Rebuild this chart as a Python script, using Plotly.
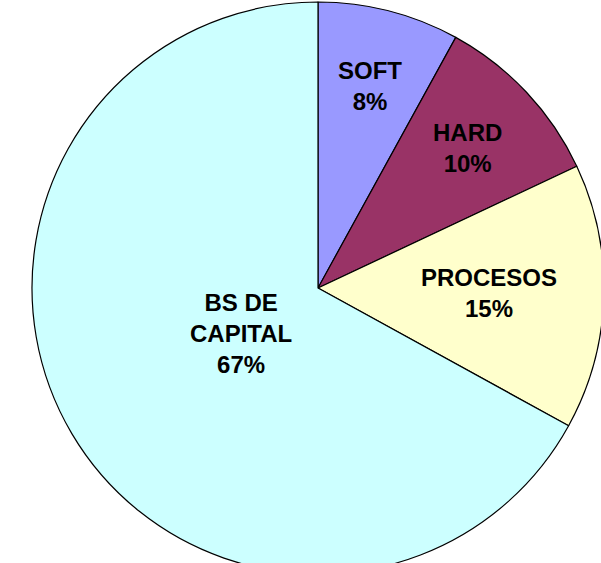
import math
import plotly.graph_objects as go

labels = ["SOFT", "HARD", "PROCESOS", "BS DE CAPITAL"]
display_names = ["SOFT", "HARD", "PROCESOS", "BS DE<br>CAPITAL"]
values = [8, 10, 15, 67]
colors = ["#9999FF", "#993366", "#FFFFCC", "#CCFFFF"]
label_radius = [0.73, 0.717, 0.598, 0.311]  # fraction of pie radius where each label sits

W, H = 640, 620
cx, cy, r = 318, 288, 286

fig = go.Figure(go.Pie(
    labels=labels,
    values=values,
    textposition="none",
    sort=False,
    direction="clockwise",
    rotation=0,
    marker=dict(colors=colors, line=dict(color="black", width=1.2)),
    hoverinfo="none",
    domain=dict(x=[(cx - r) / W, (cx + r) / W], y=[1 - (cy + r) / H, 1 - (cy - r) / H]),
))

total = sum(values)
cum = 0
for name, v, rf in zip(display_names, values, label_radius):
    mid = (cum + v / 2) / total * 2 * math.pi
    cum += v
    px = cx + rf * r * math.sin(mid)
    py = cy - rf * r * math.cos(mid)
    fig.add_annotation(
        x=px / W, y=1 - py / H, xref="paper", yref="paper",
        text=f"{name}<br>{round(v / total * 100)}%",
        showarrow=False, xanchor="center", yanchor="middle", align="center",
        font=dict(family="Liberation Sans, Arial", size=24, color="black", weight="bold"),
    )

fig.update_layout(
    width=W, height=H,
    margin=dict(l=0, r=0, t=0, b=0),
    showlegend=False,
    paper_bgcolor="white",
    plot_bgcolor="white",
)
fig.write_html(
    "out.html",
    config={"displayModeBar": False},
    post_script="document.body.style.margin='0';document.documentElement.style.overflow='hidden';document.body.style.overflow='hidden';",
)
